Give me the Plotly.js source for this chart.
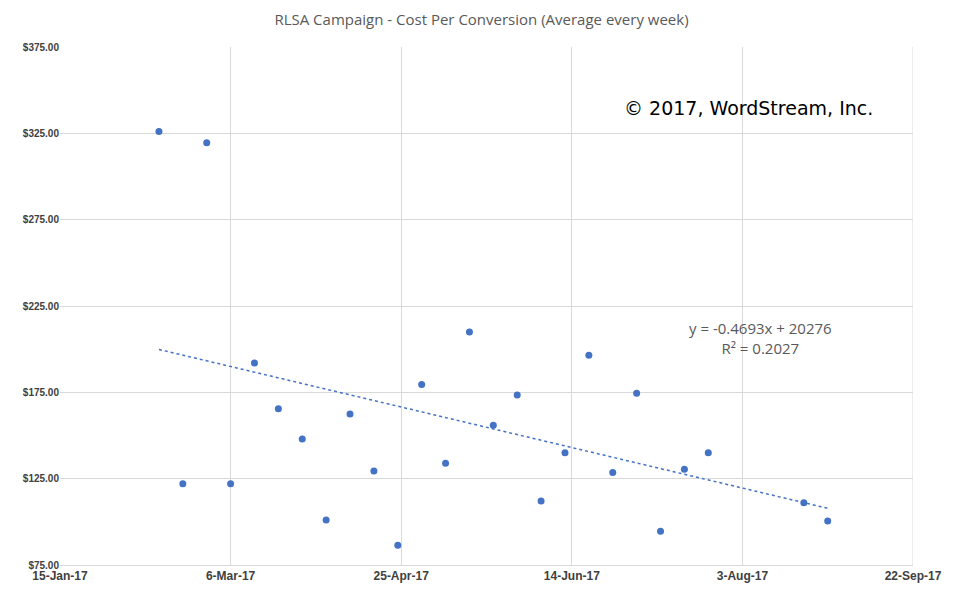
<!DOCTYPE html>
<html><head><meta charset="utf-8">
<script src="https://cdn.plot.ly/plotly-3.0.1.min.js"></script>
<style>body{margin:0}#c{width:963px;height:600px}</style></head>
<body><div id="c"></div>
<script>
const weeks = ["2017-02-13","2017-02-20","2017-02-27","2017-03-06","2017-03-13","2017-03-20","2017-03-27","2017-04-03","2017-04-10","2017-04-17","2017-04-24","2017-05-01","2017-05-08","2017-05-15","2017-05-22","2017-05-29","2017-06-05","2017-06-12","2017-06-19","2017-06-26","2017-07-03","2017-07-10","2017-07-17","2017-07-24","2017-08-21","2017-08-28"];
const cpc = [326,122,319.5,122,192,165.5,148,101,162.5,129.5,86.5,179.5,134,210,156,173.5,112,140,196.5,128.5,174.5,94.5,130.5,140,111,100.5];
const slope = -0.4693, intercept = 20276;
const excelEpoch = Date.UTC(1899,11,30);
const serial = d => (Date.parse(d+"T00:00:00Z")-excelEpoch)/86400000;
const trendX = [weeks[0], weeks[weeks.length-1]];
const trendY = trendX.map(d => slope*serial(d)+intercept);
const f = "Liberation Sans, Arial, sans-serif";
Plotly.newPlot('c',[
 {x:trendX,y:trendY,mode:'lines',line:{color:'#4472C4',dash:'dot',width:1.5},hoverinfo:'skip'},
 {x:weeks,y:cpc,mode:'markers',marker:{color:'#4472C4',size:7}}
],{
 width:963,height:600,showlegend:false,
 margin:{l:60,r:50,t:47,b:35},
 paper_bgcolor:'#fff',plot_bgcolor:'#fff',
 title:{text:'RLSA Campaign - Cost Per Conversion (Average every week)',font:{family:'Open Sans, sans-serif',size:15,color:'#595959'},x:0.5,y:0.967,yanchor:'middle'},
 xaxis:{type:'date',range:['2017-01-15','2017-09-22'],tick0:'2017-01-15',dtick:50*86400000,tickformat:'%-d-%b-%y',
   showgrid:true,gridcolor:'#d9d9d9',zeroline:false,showline:true,linecolor:'#d9d9d9',
   tickfont:{family:f,size:12,color:'#404040',weight:'bold'}},
 yaxis:{range:[75,375],dtick:50,tick0:75,tickformat:'$,.2f',showgrid:true,gridcolor:'#d9d9d9',zeroline:false,
   tickfont:{family:f,size:10,color:'#404040',weight:'bold'}},
 shapes:[{type:'line',xref:'x',yref:'paper',x0:'2017-09-22',x1:'2017-09-22',y0:0,y1:1,line:{color:'#d9d9d9',width:1}}],
 annotations:[
  {text:'© 2017, WordStream, Inc.',xref:'paper',yref:'paper',x:(748-60)/853,y:(565-108)/518,xanchor:'center',yanchor:'middle',showarrow:false,font:{family:'DejaVu Sans, sans-serif',size:19,color:'#000'}},
  {text:'y = -0.4693x + 20276<br>R² = 0.2027',xref:'paper',yref:'paper',x:(760-60)/853,y:(565-338)/518,xanchor:'center',yanchor:'middle',showarrow:false,align:'center',font:{family:'Open Sans, sans-serif',size:15,color:'#595959'}}
 ]
},{displayModeBar:false});
</script></body></html>
